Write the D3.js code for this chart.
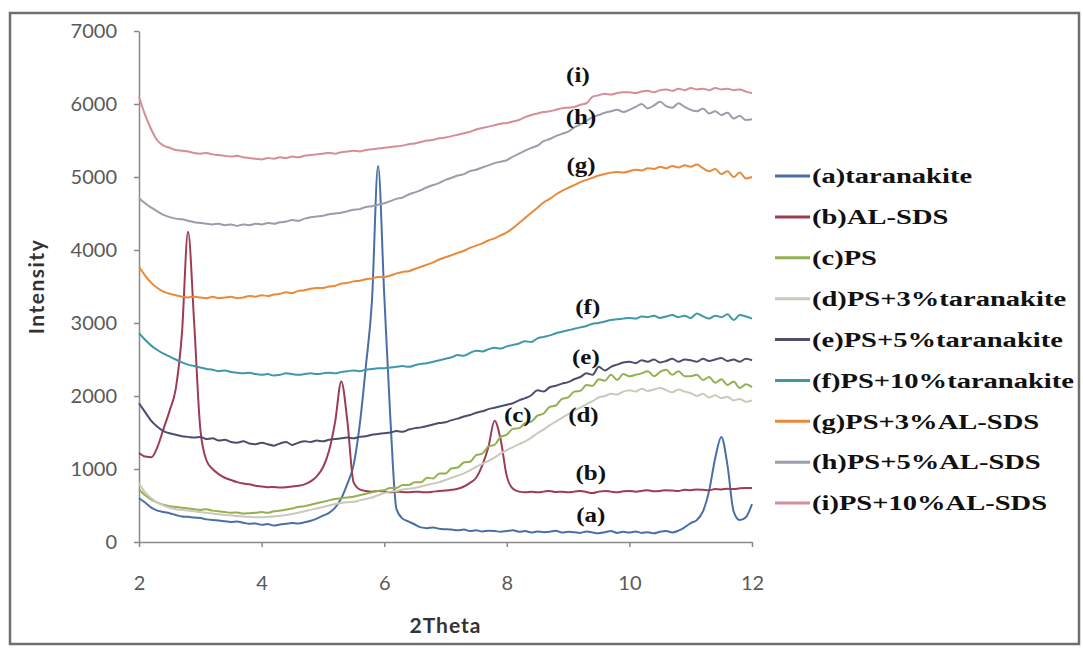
<!DOCTYPE html>
<html>
<head>
<meta charset="utf-8">
<script src="https://cdn.jsdelivr.net/npm/d3@7"></script>
<style>
  body { margin: 0; background: #fff; }
</style>
</head>
<body>
<div id="graphic"></div>
<script>
// 2Theta sampling grid: 2.0 .. 12.0, step 0.1
var twoTheta = d3.range(0, 101).map(function(i) { return +(2 + i * 0.1).toFixed(1); });

// intensities, 10 values per unit of 2Theta
var aTaranakite = [
  600, 540, 470, 430, 410, 395, 370, 350, 345, 335,
  330, 310, 300, 295, 285, 275, 280, 265, 250, 255,
  235, 245, 225, 240, 250, 260, 255, 270, 290, 320,
  360, 400, 470, 600, 800, 1050, 1600, 2400, 3300, 5150,
  3400, 1700, 450, 320, 280, 240, 200, 190, 200, 180,
  175, 170, 160, 170, 150, 160, 145, 155, 150, 140,
  150, 160, 140, 150, 130, 145, 135, 140, 155, 130,
  140, 135, 125, 145, 130, 120, 135, 150, 125, 140,
  130, 145, 125, 135, 120, 140, 150, 130, 155, 200,
  260, 300, 420, 700, 1150, 1440, 1050, 420, 300, 340,
  520];
var bAlSds = [
  1220, 1170, 1160, 1300, 1550, 1800, 2100, 2850, 4250, 3000,
  1550, 1120, 1000, 930, 880, 850, 820, 800, 790, 770,
  760, 750, 755, 745, 750, 760, 770, 790, 830, 900,
  1020, 1250, 1650, 2200, 1650, 820, 720, 700, 690, 700,
  690, 680, 690, 685, 680, 690, 685, 680, 690, 700,
  705, 715, 730, 760, 810, 880, 1050, 1300, 1660, 1400,
  900, 730, 690, 680, 690, 680, 690, 700, 685, 690,
  680, 690, 700, 685, 670, 690, 700, 690, 680, 695,
  700, 690, 700, 710, 695, 700, 710, 705, 700, 715,
  710, 720, 715, 710, 725, 720, 730, 725, 735, 740,
  740];
var cPs = [
  720, 640, 580, 540, 510, 490, 480, 470, 460, 450,
  440, 450, 430, 420, 410, 400, 405, 390, 395, 400,
  410, 400, 420, 430, 445, 460, 480, 490, 510, 530,
  550, 570, 590, 600, 610, 620, 640, 660, 680, 700,
  710, 740, 740, 780, 780, 820, 820, 880, 870, 940,
  940, 1010, 1020, 1090, 1100, 1190, 1210, 1310, 1330, 1440,
  1470, 1550, 1560, 1630, 1650, 1730, 1760, 1850, 1870, 1960,
  1980, 2060, 2070, 2150, 2140, 2230, 2210, 2290, 2220, 2300,
  2270, 2290, 2310, 2340, 2270, 2330, 2360, 2290, 2340, 2270,
  2270, 2290, 2220, 2260, 2180, 2230, 2150, 2200, 2110, 2160,
  2120];
var dPs3Tar = [
  800, 680, 600, 540, 500, 470, 450, 440, 430, 420,
  410, 400, 390, 380, 370, 365, 355, 350, 345, 340,
  340, 345, 350, 360, 370, 385, 400, 420, 440, 460,
  480, 500, 520, 535, 545, 550, 570, 590, 610, 640,
  670, 690, 700, 720, 730, 740, 760, 780, 800, 820,
  850, 880, 910, 940, 980, 1030, 1070, 1110, 1160, 1210,
  1260, 1300, 1340, 1380, 1430, 1490, 1540, 1600, 1650, 1700,
  1750, 1800, 1840, 1890, 1930, 1980, 2000, 2030, 2020, 2060,
  2080, 2060, 2100, 2070, 2090, 2110, 2080, 2050, 2090, 2060,
  2040, 2000, 2030, 1980, 2010, 1970, 1990, 1940, 1960, 1920,
  1940];
var ePs5Tar = [
  1900, 1780, 1660, 1580, 1520, 1490, 1470, 1450, 1440, 1430,
  1440, 1410, 1420, 1390, 1400, 1370, 1360, 1380, 1350, 1340,
  1360, 1340, 1320, 1350, 1370, 1330, 1360, 1380, 1370, 1390,
  1380, 1400, 1410, 1420, 1430, 1420, 1440, 1450, 1470, 1480,
  1490, 1500, 1520, 1510, 1540, 1560, 1570, 1590, 1610, 1630,
  1640, 1670, 1690, 1720, 1740, 1770, 1790, 1820, 1840, 1860,
  1880, 1900, 1940, 1970, 2010, 2080, 2060, 2120, 2140, 2170,
  2190, 2230, 2260, 2310, 2290, 2400, 2350, 2400, 2430, 2460,
  2470, 2450, 2490, 2470, 2500, 2460, 2480, 2510, 2470, 2500,
  2490, 2470, 2510, 2480, 2500, 2520, 2480, 2500, 2470, 2510,
  2490];
var fPs10Tar = [
  2860, 2770, 2690, 2630, 2580, 2540, 2500, 2460, 2430, 2410,
  2390, 2370, 2360, 2340, 2350, 2330, 2320, 2310, 2320, 2300,
  2290, 2300, 2280, 2290, 2310, 2300, 2290, 2300, 2310, 2300,
  2310, 2320, 2310, 2330, 2340, 2350, 2340, 2360, 2370, 2380,
  2380, 2390, 2400, 2410, 2400, 2420, 2440, 2450, 2470, 2490,
  2510, 2530, 2560, 2550, 2590, 2620, 2610, 2640, 2660, 2650,
  2680, 2700, 2720, 2750, 2740, 2790, 2810, 2830, 2860, 2880,
  2900, 2920, 2940, 2960, 2990, 3000, 3020, 3040, 3050, 3060,
  3070, 3060, 3090, 3080, 3100, 3070, 3090, 3110, 3080, 3100,
  3070, 3130, 3090, 3060, 3100, 3080, 3120, 3040, 3110, 3090,
  3060];
var gPs3Al = [
  3770, 3650, 3550, 3480, 3430, 3400, 3380, 3360, 3350, 3360,
  3350, 3340, 3360, 3340, 3350, 3360, 3340, 3350, 3370, 3360,
  3380, 3370, 3390, 3400, 3420, 3410, 3440, 3450, 3470, 3480,
  3480, 3500, 3510, 3540, 3550, 3570, 3580, 3600, 3610, 3630,
  3630, 3650, 3680, 3700, 3710, 3740, 3770, 3800, 3830, 3870,
  3900, 3930, 3960, 3990, 4030, 4060, 4090, 4130, 4160, 4200,
  4240, 4300, 4370, 4440, 4510, 4580, 4650, 4700, 4760, 4810,
  4850, 4890, 4930, 4960, 4990, 5020, 5040, 5060, 5070, 5060,
  5080, 5100, 5090, 5120, 5110, 5140, 5120, 5150, 5130, 5160,
  5140, 5170, 5120, 5080, 5110, 5040, 5080, 5000, 5060, 4980,
  5000];
var hPs5Al = [
  4710, 4640, 4580, 4530, 4480, 4450, 4430, 4420, 4400, 4380,
  4370, 4360, 4350, 4360, 4340, 4350, 4330, 4350, 4340, 4360,
  4350, 4370, 4360, 4380, 4390, 4410, 4400, 4430, 4450, 4460,
  4470, 4490, 4500, 4510, 4530, 4550, 4560, 4590, 4600, 4620,
  4640, 4670, 4700, 4720, 4760, 4790, 4820, 4860, 4890, 4920,
  4960, 4990, 5020, 5040, 5080, 5100, 5130, 5160, 5190, 5210,
  5230, 5280, 5320, 5360, 5400, 5430, 5490, 5520, 5560, 5590,
  5620, 5680, 5720, 5770, 5820, 5850, 5880, 5900, 5920, 5890,
  5920, 5960, 6000, 5940, 5980, 6030, 5970, 5950, 6010, 5960,
  5920, 5900, 5940, 5870, 5900, 5850, 5880, 5800, 5840, 5780,
  5790];
var iPs10Al = [
  6100, 5850, 5650, 5500, 5430, 5400, 5370, 5360, 5350, 5330,
  5320, 5330, 5310, 5300, 5290, 5280, 5290, 5270, 5260, 5250,
  5240, 5260, 5250, 5270, 5260, 5280, 5270, 5290, 5300, 5310,
  5320, 5330, 5320, 5340, 5350, 5360, 5350, 5370, 5380, 5390,
  5400, 5410, 5420, 5430, 5450, 5460, 5480, 5500, 5510, 5530,
  5540, 5560, 5580, 5600, 5620, 5650, 5670, 5690, 5710, 5730,
  5740, 5760, 5780, 5820, 5850, 5870, 5890, 5900, 5920, 5940,
  5950, 5960, 5990, 6010, 6100, 6120, 6140, 6130, 6150, 6160,
  6160, 6150, 6170, 6180, 6160, 6190, 6200, 6180, 6210, 6190,
  6220, 6200, 6210, 6190, 6220, 6200, 6210, 6190, 6200, 6170,
  6150];

var seriesNames = ["(a)taranakite", "(b)AL-SDS", "(c)PS", "(d)PS+3%taranakite",
  "(e)PS+5%taranakite", "(f)PS+10%taranakite", "(g)PS+3%AL-SDS",
  "(h)PS+5%AL-SDS", "(i)PS+10%AL-SDS"];
var seriesValues = [aTaranakite, bAlSds, cPs, dPs3Tar, ePs5Tar, fPs10Tar, gPs3Al, hPs5Al, iPs10Al];
var seriesColors = ["#4a6fa8", "#9c3d52", "#94b050", "#c9cabb", "#4d4d70",
  "#3e98aa", "#e88a3a", "#9c9caa", "#d68d98"];

// curve annotations, placed in data units
var curveLabels = ["(a)", "(b)", "(c)", "(d)", "(e)", "(f)", "(g)", "(h)", "(i)"];
var labelTheta = [9.37, 9.37, 8.18, 9.25, 9.29, 9.32, 9.21, 9.21, 9.16];
var labelIntensity = [370, 945, 1740, 1740, 2535, 3220, 5160, 5820, 6400];

var xTicks = [2, 4, 6, 8, 10, 12];
var yTicks = [0, 1000, 2000, 3000, 4000, 5000, 6000, 7000];

var svg = d3.select("#graphic").append("svg")
    .attr("width", 1083)
    .attr("height", 648);

// outer frame
svg.append("rect")
    .attr("x", 10).attr("y", 13)
    .attr("width", 1069).attr("height", 631)
    .style("fill", "#fff")
    .style("stroke", "#6f6f6f")
    .style("stroke-width", 2.5);

var x = d3.scaleLinear().domain([2, 12]).range([139, 752]);
var y = d3.scaleLinear().domain([0, 7000]).range([542, 31]);

var xAxis = svg.append("g")
    .attr("transform", "translate(0,542)")
    .call(d3.axisBottom(x).tickValues(xTicks).tickSize(5).tickPadding(29).tickSizeOuter(0));
var yAxis = svg.append("g")
    .attr("transform", "translate(139,0)")
    .call(d3.axisLeft(y).tickValues(yTicks).tickFormat(d3.format("d"))
      .tickSize(5).tickPadding(17).tickSizeOuter(0));

[xAxis, yAxis].forEach(function(ax) {
  ax.select(".domain").style("stroke", "#8a8a8a").style("stroke-width", 1.5);
  ax.selectAll(".tick line").style("stroke", "#8a8a8a").style("stroke-width", 1.5);
  ax.selectAll(".tick text")
      .style("font-family", "Lato, 'Open Sans', sans-serif")
      .style("font-size", "20px")
      .style("fill", "#595959");
});

var line = d3.line()
    .x(function(d, i) { return x(twoTheta[i]); })
    .y(function(d) { return y(d); })
    .curve(d3.curveMonotoneX);

svg.append("g").selectAll("path")
    .data(seriesValues)
    .join("path")
    .attr("d", line)
    .style("fill", "none")
    .style("stroke", function(d, i) { return seriesColors[i]; })
    .style("stroke-width", 2)
    .style("stroke-linejoin", "round");

// curve labels
svg.append("g").selectAll("text")
    .data(curveLabels)
    .join("text")
    .attr("transform", function(d, i) {
      return "translate(" + x(labelTheta[i]) + "," + y(labelIntensity[i]) + ") scale(1.25,1)";
    })
    .attr("dy", "0.35em")
    .attr("text-anchor", "middle")
    .style("font-family", "'Liberation Serif', 'Times New Roman', serif")
    .style("font-weight", "bold")
    .style("font-size", "20px")
    .style("fill", "#111")
    .text(function(d) { return d; });

// axis titles
svg.append("text")
    .attr("x", (x.range()[0] + x.range()[1]) / 2)
    .attr("y", 633)
    .attr("text-anchor", "middle")
    .style("font-family", "Lato, 'Open Sans', sans-serif")
    .style("font-weight", "bold")
    .style("font-size", "21px")
    .style("letter-spacing", "1px")
    .style("fill", "#333")
    .text("2Theta");

svg.append("text")
    .attr("transform", "translate(44," + ((y.range()[0] + y.range()[1]) / 2) + ") rotate(-90)")
    .attr("text-anchor", "middle")
    .style("font-family", "Lato, 'Open Sans', sans-serif")
    .style("font-weight", "bold")
    .style("font-size", "21px")
    .style("letter-spacing", "1.5px")
    .style("fill", "#333")
    .text("Intensity");

// legend
var legendY = d3.scalePoint().domain(seriesNames).range([176, 503]);
var legend = svg.append("g").selectAll("g")
    .data(seriesNames)
    .join("g")
    .attr("transform", function(d) { return "translate(775," + legendY(d) + ")"; });

legend.append("line")
    .attr("x1", 0).attr("x2", 35)
    .style("stroke", function(d, i) { return seriesColors[i]; })
    .style("stroke-width", 3);

legend.append("text")
    .attr("transform", "translate(37,0) scale(1.36,1)")
    .attr("dy", "0.35em")
    .style("font-family", "'Liberation Serif', 'Times New Roman', serif")
    .style("font-weight", "bold")
    .style("font-size", "21px")
    .style("fill", "#111")
    .text(function(d) { return d; });
</script>
</body>
</html>
